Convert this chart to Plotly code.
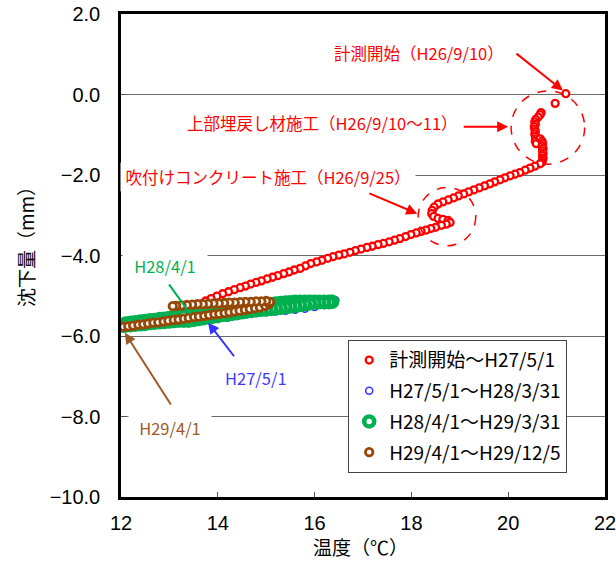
import plotly.graph_objects as go

# ---------------- data ----------------
red_temp = [21.19, 20.97,
            20.68, 20.66, 20.62,
            20.57, 20.55, 20.56, 20.54, 20.55, 20.56, 20.55, 20.56, 20.57, 20.56, 20.58,
            20.66, 20.70, 20.71, 20.70, 20.72, 20.71, 20.72, 20.71, 20.72, 20.71, 20.69,
            20.66, 20.55, 20.45, 20.35, 20.24, 20.14, 20.04, 19.93, 19.83, 19.72, 19.62,
            19.51, 19.40, 19.29, 19.18, 19.08, 18.97, 18.87, 18.76, 18.65, 18.55, 18.47,
            18.43, 18.42, 18.46, 18.55, 18.65, 18.76, 18.80, 18.72, 18.62,
            18.50, 18.40, 18.30, 18.20, 18.10, 17.99, 17.88, 17.76, 17.65, 17.54, 17.42,
            17.31, 17.19, 17.08, 16.96, 16.84, 16.73, 16.61, 16.50, 16.38, 16.27, 16.15,
            16.04, 15.92, 15.81, 15.70, 15.58, 15.47, 15.36, 15.24, 15.13, 15.02, 14.90,
            14.79, 14.68, 14.57, 14.46, 14.34, 14.22, 14.10, 13.98, 13.86, 13.75, 13.66,
            13.60, 13.62, 13.70, 13.78]
red_settle = [0.02, -0.22,
              -0.45, -0.50, -0.56,
              -0.62, -0.68, -0.74, -0.80, -0.86, -0.92, -0.98, -1.04, -1.10, -1.16, -1.22,
              -1.10, -1.16, -1.22, -1.28, -1.34, -1.40, -1.46, -1.52, -1.58, -1.64, -1.69,
              -1.72, -1.78, -1.83, -1.88, -1.94, -1.98, -2.02, -2.07, -2.12, -2.17, -2.22,
              -2.27, -2.32, -2.37, -2.42, -2.47, -2.52, -2.57, -2.62, -2.67, -2.72, -2.80,
              -2.88, -2.96, -3.03, -3.08, -3.10, -3.13, -3.18, -3.22, -3.25,
              -3.30, -3.33, -3.37, -3.40, -3.44, -3.48, -3.53, -3.58, -3.62, -3.66, -3.70,
              -3.73, -3.77, -3.80, -3.84, -3.88, -3.92, -3.96, -3.99, -4.03, -4.07, -4.12,
              -4.16, -4.20, -4.26, -4.32, -4.36, -4.41, -4.45, -4.50, -4.54, -4.58, -4.63,
              -4.67, -4.71, -4.76, -4.80, -4.85, -4.90, -4.95, -5.01, -5.07, -5.13, -5.20,
              -5.28, -5.38, -5.48, -5.58]

blue_temp = [13.85, 14.0, 14.2, 14.4, 14.6, 14.8, 15.0, 15.2, 15.4, 15.6, 15.8, 16.0,
             16.2, 16.35, 16.43, 16.35, 16.1, 15.8, 15.5, 15.2, 14.9, 14.6, 14.3, 14.0,
             13.7, 13.4, 13.1, 12.8, 12.5, 12.3, 12.6, 12.9, 13.2, 13.4]
blue_settle = [-5.60, -5.58, -5.54, -5.50, -5.46, -5.43, -5.41, -5.39, -5.37, -5.35, -5.32,
               -5.28, -5.23, -5.17, -5.11, -5.08, -5.12, -5.15, -5.18, -5.22, -5.27, -5.32,
               -5.38, -5.44, -5.50, -5.55, -5.60, -5.65, -5.68, -5.70, -5.64, -5.58, -5.53,
               -5.50]

green_temp = [13.4, 13.5, 13.6, 13.7, 13.8, 13.9, 14.0, 14.1, 14.2, 14.3, 14.4, 14.5, 14.6,
              14.7, 14.8, 14.9, 15.0, 15.1, 15.2, 15.3, 15.4, 15.5, 15.6, 15.7, 15.8, 15.9,
              16.0, 16.1, 16.2, 16.3, 16.36,
              16.3, 16.2, 16.1, 16.0, 15.9, 15.8, 15.7, 15.6, 15.5, 15.4, 15.3, 15.2, 15.1,
              15.0, 14.9, 14.8, 14.7, 14.6, 14.5, 14.4, 14.3, 14.2, 14.1, 14.0, 13.9, 13.8,
              13.7, 13.6, 13.5, 13.4, 13.3, 13.2, 13.1, 13.0, 12.9, 12.8, 12.7, 12.6, 12.5,
              12.4, 12.3, 12.2, 12.1, 12.05,
              12.1, 12.2, 12.3, 12.4, 12.5, 12.6, 12.7, 12.8, 12.9, 13.0, 13.1, 13.2, 13.3]
green_settle = [-5.50, -5.48, -5.46, -5.44, -5.42, -5.40, -5.38, -5.36, -5.35, -5.33, -5.31,
                -5.30, -5.28, -5.27, -5.25, -5.24, -5.22, -5.21, -5.19, -5.18, -5.17, -5.16,
                -5.15, -5.15, -5.15, -5.15, -5.15, -5.15, -5.15, -5.15, -5.15,
                -5.16, -5.16, -5.16, -5.17, -5.19, -5.21, -5.23, -5.25, -5.27, -5.28, -5.30,
                -5.31, -5.33, -5.34, -5.35, -5.36, -5.38, -5.39, -5.41, -5.43, -5.45, -5.47,
                -5.48, -5.50, -5.52, -5.54, -5.56, -5.58, -5.60, -5.62, -5.62, -5.62, -5.63,
                -5.64, -5.65, -5.66, -5.67, -5.68, -5.70, -5.71, -5.72, -5.73, -5.74, -5.74,
                -5.69, -5.67, -5.66, -5.64, -5.63, -5.61, -5.60, -5.58, -5.57, -5.55, -5.54,
                -5.52, -5.50]

brown_temp = [12.05, 12.15, 12.25, 12.36, 12.46, 12.56, 12.67, 12.77, 12.88, 12.98, 13.09,
              13.19, 13.30, 13.40, 13.51, 13.61, 13.72, 13.82, 13.93, 14.03, 14.14, 14.24,
              14.35, 14.45, 14.56, 14.66, 14.77, 14.87, 14.98, 15.06, 15.08,
              15.00, 14.90, 14.79, 14.68, 14.57, 14.46, 14.35, 14.24, 14.13, 14.02, 13.91,
              13.80, 13.69, 13.58, 13.47, 13.36, 13.25, 13.14, 13.07]
brown_settle = [-5.77, -5.76, -5.74, -5.72, -5.71, -5.69, -5.67, -5.66, -5.64, -5.62, -5.60,
                -5.59, -5.57, -5.55, -5.53, -5.52, -5.50, -5.48, -5.46, -5.45, -5.43, -5.41,
                -5.39, -5.37, -5.35, -5.33, -5.31, -5.29, -5.25, -5.20, -5.15,
                -5.13, -5.14, -5.14, -5.15, -5.15, -5.16, -5.17, -5.17, -5.18, -5.19, -5.19,
                -5.20, -5.21, -5.21, -5.22, -5.23, -5.24, -5.25, -5.26]

series_names = ["計測開始～H27/5/1", "H27/5/1～H28/3/31",
                "H28/4/1～H29/3/31", "H29/4/1～H29/12/5"]
RED, BLUE, GREEN, BROWN = "#FF0000", "#3333FF", "#00B050", "#974806"

JP = "Noto Sans CJK JP"
LAT = "Liberation Sans"

fig = go.Figure()
specs = [
    (red_temp, red_settle, series_names[0], RED, 7, 2.3),
    (blue_temp, blue_settle, series_names[1], BLUE, 7, 1.5),
    (green_temp, green_settle, series_names[2], GREEN, 10, 4.5),
    (brown_temp, brown_settle, series_names[3], BROWN, 7.5, 2.8),
]
for i, (xs, ys, nm, col, sz, lw) in enumerate(specs):
    fig.add_trace(go.Scatter(
        x=xs, y=ys, mode="markers", name=nm, legendgroup=f"g{i}",
        marker=dict(symbol="circle", size=sz, color="white",
                    line=dict(color=col, width=lw)),
        hoverinfo="skip"))

annotations = []
labels = [
    ("計測開始（H26/9/10）", 18.16, 1.02, RED, None),
    ("上部埋戻し材施工（H26/9/10～11）", 16.17, -0.70, RED, None),
    ("吹付けコンクリート施工（H26/9/25）", 15.04, -2.06, RED, 290),
    ("H28/4/1", 12.91, -4.25, GREEN, 80),
    ("H27/5/1", 14.79, -7.04, "#3A3AFF", None),
    ("H29/4/1", 13.01, -8.28, "#9C5A28", 78),
]
for txt, x, y, col, w in labels:
    a = dict(text=txt, x=x, y=y, xref="x", yref="y", showarrow=False,
             font=dict(family=JP, size=16.5, color=col),
             xanchor="center", yanchor="middle")
    if w:
        a.update(bgcolor="white", width=w, borderpad=2)
    annotations.append(a)

arrows = [
    (21.13, 0.10, 20.14, 1.045, RED, 2),
    (20.00, -0.80, 19.05, -0.80, RED, 2),
    (18.12, -2.96, 17.10, -2.44, RED, 2),
    (13.43, -5.45, 12.97, -4.68, GREEN, 0),
    (13.80, -5.67, 14.36, -6.54, BLUE, 2),
    (12.08, -5.92, 13.05, -7.74, "#9C5A28", 2),
]
for hx, hy, tx, ty, col, head in arrows:
    annotations.append(dict(
        x=hx, y=hy, ax=tx, ay=ty, xref="x", yref="y", axref="x", ayref="y",
        text="", showarrow=True, arrowhead=head, arrowsize=1.1, arrowwidth=2,
        arrowcolor=col, standoff=0, startstandoff=0))

annotations.append(dict(text="温度（℃）", xref="paper", yref="paper",
                        x=0.494, y=-0.1035, showarrow=False,
                        font=dict(family=JP, size=19, color="black"),
                        xanchor="center", yanchor="middle"))
annotations.append(dict(text="沈下量（mm）", xref="paper", yref="paper",
                        x=-0.196, y=0.528, showarrow=False, textangle=-90,
                        font=dict(family=JP, size=19, color="black"),
                        xanchor="center", yanchor="middle"))

shapes = [
    dict(type="circle", xref="x", yref="y", x0=20.06, x1=21.58, y0=-1.73, y1=0.09,
         line=dict(color=RED, width=1.5, dash="dash")),
    dict(type="circle", xref="x", yref="y", x0=18.14, x1=19.33, y0=-3.76, y1=-2.31,
         line=dict(color=RED, width=1.5, dash="dash")),
]

fig.update_layout(
    width=616, height=574,
    margin=dict(l=121, r=11, t=14, b=77, autoexpand=False),
    paper_bgcolor="white", plot_bgcolor="white",
    showlegend=True,
    xaxis=dict(range=[12, 22], tick0=12, dtick=2, showgrid=False, zeroline=False,
               automargin=False, ticklabeloverflow="allow",
               showline=True, linecolor="black", linewidth=2.5, mirror=True,
               ticks="inside", ticklen=5, tickcolor="#555", tickwidth=1,
               ticklabelstandoff=6,
               tickfont=dict(family=LAT, size=20, color="black")),
    yaxis=dict(range=[-10, 2], tick0=-10, dtick=2, tickformat=".1f",
               automargin=False, ticklabeloverflow="allow",
               showgrid=True, gridcolor="#6a6a6a", gridwidth=1.3, zeroline=False,
               showline=True, linecolor="black", linewidth=2.5, mirror=True,
               ticks="inside", ticklen=5, tickcolor="#555", tickwidth=1,
               ticklabelstandoff=14,
               tickfont=dict(family=LAT, size=20, color="black")),
    legend=dict(x=0.469, y=0.325, xanchor="left", yanchor="top",
                bgcolor="white", bordercolor="#444", borderwidth=1.2,
                font=dict(family=JP, size=19, color="black"),
                traceorder="grouped", tracegroupgap=3, itemwidth=30,
                entrywidth=222, entrywidthmode="pixels"),
    annotations=annotations,
    shapes=shapes,
)

fig.write_html("out.html", config={"displayModeBar": False},
               post_script="document.body.style.margin='0';")
